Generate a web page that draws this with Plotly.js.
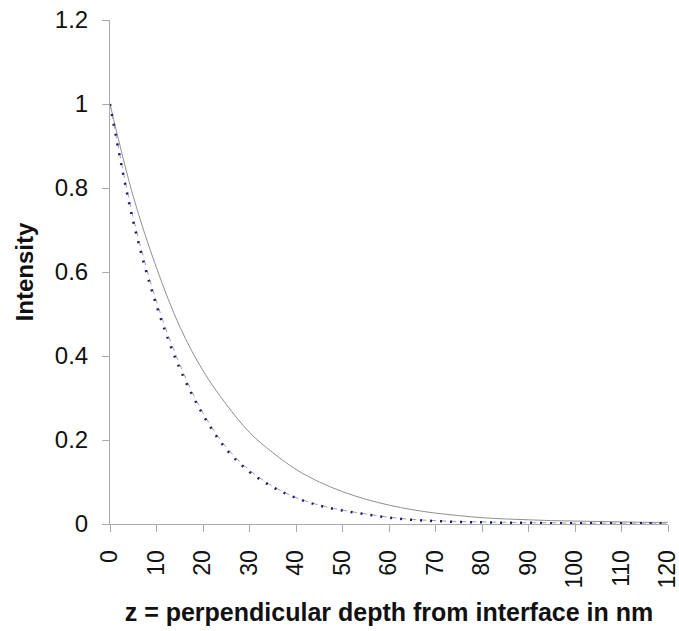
<!DOCTYPE html>
<html>
<head>
<meta charset="utf-8">
<script src="https://cdn.plot.ly/plotly-3.0.1.min.js"></script>
<style>html,body{margin:0;padding:0;background:#fff;}#chart{width:679px;height:631px;}</style>
</head>
<body>
<div id="chart"></div>
<script>
const depth = [0,5,10,15,20,25,30,35,40,45,50,55,60,65,70,75,80,85,90,95,100,105,110,115,120];
const solidGray = [1,0.78,0.61,0.47,0.365,0.285,0.218,0.17,0.13,0.1,0.077,0.059,0.045,0.034,0.026,0.02,0.015,0.012,0.01,0.008,0.007,0.006,0.005,0.004,0.004];
const dashedGray = [1,0.73,0.53,0.38,0.265,0.183,0.128,0.09,0.063,0.045,0.033,0.024,0.016,0.011,0.008,0.006,0.005,0.004,0.003,0.003,0.002,0.002,0.002,0.002,0.002];
const dottedBlue = [1,0.72,0.52,0.37,0.26,0.178,0.124,0.088,0.062,0.044,0.032,0.023,0.015,0.01,0.007,0.005,0.004,0.003,0.003,0.002,0.002,0.002,0.002,0.002,0.002];
const xTicks = [0,10,20,30,40,50,60,70,80,90,100,110,120];
const yTicks = [0,0.2,0.4,0.6,0.8,1,1.2];

const traces = [
  {x: depth, y: solidGray, mode: 'lines', line: {color: '#909090', width: 1, shape: 'spline'}},
  {x: depth, y: dashedGray, mode: 'lines', line: {color: '#a0a0a0', width: 1, dash: '5px,5px', shape: 'spline'}},
  {x: depth, y: dottedBlue, mode: 'lines', line: {color: '#1c1c7a', width: 2.5, dash: '2px,8px', shape: 'spline'}}
];

const FONT = 'Liberation Sans, Arial, sans-serif';
const layout = {
  width: 679, height: 631,
  margin: {l: 110, r: 11, t: 20, b: 107},
  paper_bgcolor: '#fff', plot_bgcolor: '#fff',
  showlegend: false,
  font: {family: FONT, color: '#000'},
  xaxis: {
    range: [0, 120], tickvals: xTicks, ticktext: xTicks.map(String),
    tickangle: -90, tickfont: {size: 23, color: '#111'}, ticks: 'outside', ticklen: 7, tickcolor: '#aaa',
    ticklabelstandoff: 9, ticklabeloverflow: 'allow',
    showline: true, linecolor: '#aaa', linewidth: 1, showgrid: false, zeroline: false,
    title: {text: '<b>z = perpendicular depth from interface in nm</b>', font: {size: 25, family: FONT, color: '#111'}, standoff: 15}
  },
  yaxis: {
    range: [0, 1.2], tickvals: yTicks, ticktext: yTicks.map(String),
    tickfont: {size: 24, color: '#111'}, ticks: 'outside', ticklen: 7, tickcolor: '#aaa',
    ticklabelstandoff: 9, ticklabeloverflow: 'allow',
    showline: true, linecolor: '#aaa', linewidth: 1, showgrid: false, zeroline: false,
    title: {text: '<b>Intensity</b>', font: {size: 24, family: FONT, color: '#111'}, standoff: 14}
  }
};

Plotly.newPlot('chart', traces, layout, {displayModeBar: false, staticPlot: true});
</script>
</body>
</html>
